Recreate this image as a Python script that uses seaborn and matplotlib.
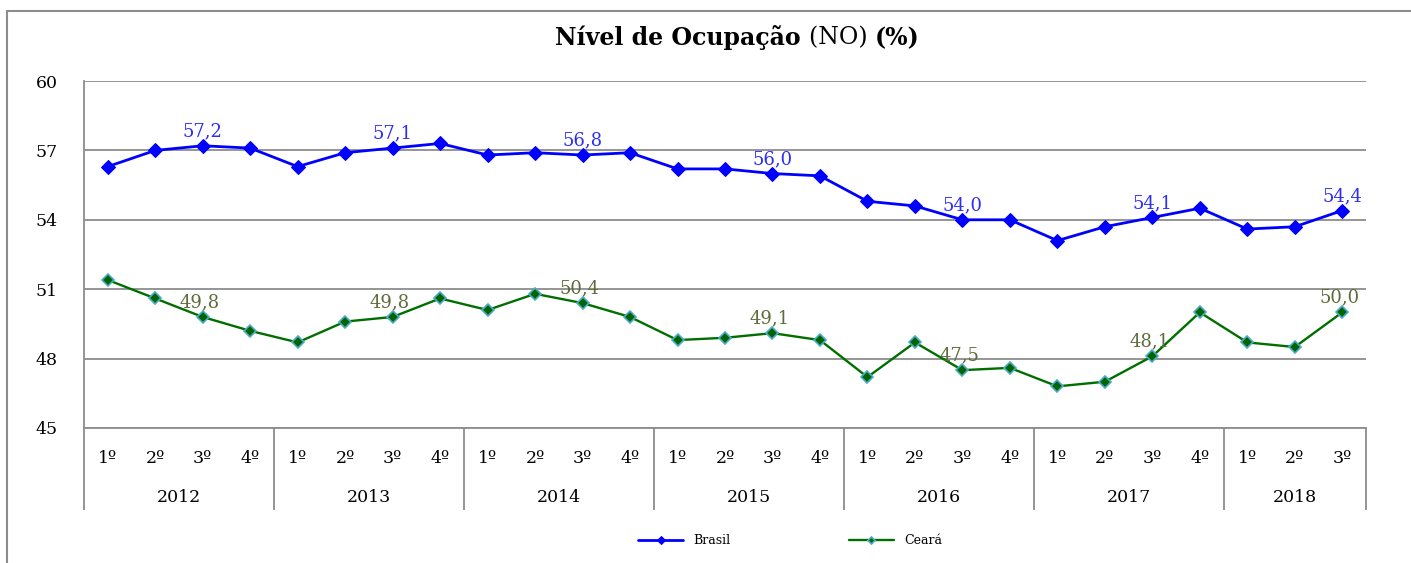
import matplotlib.pyplot as plt
import seaborn as sns
import pandas as pd
from matplotlib.patches import Rectangle

sns.set_style("white")
plt.rcParams['font.family'] = ['DejaVu Serif']
plt.rcParams.update({'text.color': 'black', 'ytick.color': 'black',
                     'xtick.color': 'black'})

anos = ['2012', '2013', '2014', '2015', '2016', '2017', '2018']
trimestres = ['1º', '2º', '3º', '4º']
n_trim = [4, 4, 4, 4, 4, 4, 3]

brasil = [56.3, 57.0, 57.2, 57.1,
          56.3, 56.9, 57.1, 57.3,
          56.8, 56.9, 56.8, 56.9,
          56.2, 56.2, 56.0, 55.9,
          54.8, 54.6, 54.0, 54.0,
          53.1, 53.7, 54.1, 54.5,
          53.6, 53.7, 54.4]
ceara = [51.4, 50.6, 49.8, 49.2,
         48.7, 49.6, 49.8, 50.6,
         50.1, 50.8, 50.4, 49.8,
         48.8, 48.9, 49.1, 48.8,
         47.2, 48.7, 47.5, 47.6,
         46.8, 47.0, 48.1, 50.0,
         48.7, 48.5, 50.0]

periodos = []
quartos = []
for ano, n in zip(anos, n_trim):
    for t in trimestres[:n]:
        periodos.append(f'{ano}-{t}')
        quartos.append(t)

df = pd.DataFrame({'periodo': periodos, 'trimestre': quartos,
                   'Brasil': brasil, 'Ceará': ceara})

grid_c = '#8C8C8C'
W, H = 1411, 563
fig = plt.figure(figsize=(W / 100, H / 100), dpi=100)
ax = fig.add_axes([84 / W, 1 - 428 / H, (1366 - 84) / W, 347 / H])

sns.lineplot(data=df, x='periodo', y='Brasil', ax=ax, sort=False,
             color='#0000FF', lw=2.0, marker='D', markersize=7,
             markeredgecolor='#0000FF', label='Brasil')
sns.lineplot(data=df, x='periodo', y='Ceará', ax=ax, sort=False,
             color='#006F00', lw=1.7, marker='D', markersize=6,
             markerfacecolor='#006400', markeredgecolor='#4BACC6',
             markeredgewidth=1.2, label='Ceará')

ax.set_xlim(-0.5, len(periodos) - 0.5)
ax.set_ylim(45, 60)
ax.set_yticks(range(45, 61, 3))
ax.yaxis.grid(True, color=grid_c, lw=1.3)
ax.set_axisbelow(True)
ax.set_xticks([])
ax.set_xlabel('')
ax.set_ylabel('')
ax.tick_params(axis='y', length=0, pad=19, labelsize=12.5)
for s in ['top', 'right']:
    ax.spines[s].set_visible(False)
for s in ['left', 'bottom']:
    ax.spines[s].set_color(grid_c)
    ax.spines[s].set_linewidth(1.3)

# rótulos de dados no 3º trimestre
for i, p in enumerate(periodos):
    if p.endswith('3º'):
        ax.annotate(f'{brasil[i]:.1f}'.replace('.', ','), (i, brasil[i]),
                    xytext=(0, 4), textcoords='offset points', ha='center',
                    va='bottom', color='#2E2EF5', fontsize=13)
        ax.annotate(f'{ceara[i]:.1f}'.replace('.', ','), (i, ceara[i]),
                    xytext=(-2, 4), textcoords='offset points', ha='center',
                    va='bottom', color='#5E6B3A', fontsize=13)

# eixo categórico em duas linhas
xt = ax.get_xaxis_transform()
ax.vlines([-0.5], 0, -0.236, transform=xt, clip_on=False, color=grid_c, lw=1.3)
pos = 0
for ano, n in zip(anos, n_trim):
    for k in range(n):
        ax.text(pos + k, -0.088, quartos[pos + k], transform=xt, ha='center',
                va='center', fontsize=12.5)
    ax.text(pos + (n - 1) / 2, -0.2, ano, transform=xt, ha='center',
            va='center', fontsize=12.5)
    pos += n
    ax.vlines([pos - 0.5], 0, -0.236, transform=xt, clip_on=False,
              color=grid_c, lw=1.3)

# título com pesos mistos
partes = [('Nível de Ocupação ', 'bold'), ('(NO) ', 'normal'), ('(%)', 'bold')]
r = fig.canvas.get_renderer()
txts = [fig.text(0, 0, s, fontsize=17, fontweight=w, va='center') for s, w in partes]
larg = [t.get_window_extent(r).width for t in txts]
x0 = 737 - sum(larg) / 2
for t, w in zip(txts, larg):
    t.set_position((x0 / W, 1 - 38 / H))
    x0 += w

ax.legend(loc='center', bbox_to_anchor=(790 / W, 1 - 541 / H),
          bbox_transform=fig.transFigure, ncol=2, frameon=False,
          fontsize=9, columnspacing=9.5, handlelength=3.6, markerscale=0.6)

fig.add_artist(Rectangle((7 / W, -0.2), 1.5, 1.2 - 11 / H,
                         transform=fig.transFigure, fill=False,
                         edgecolor=grid_c, lw=1.5))

fig.savefig('out.png', dpi=100)
